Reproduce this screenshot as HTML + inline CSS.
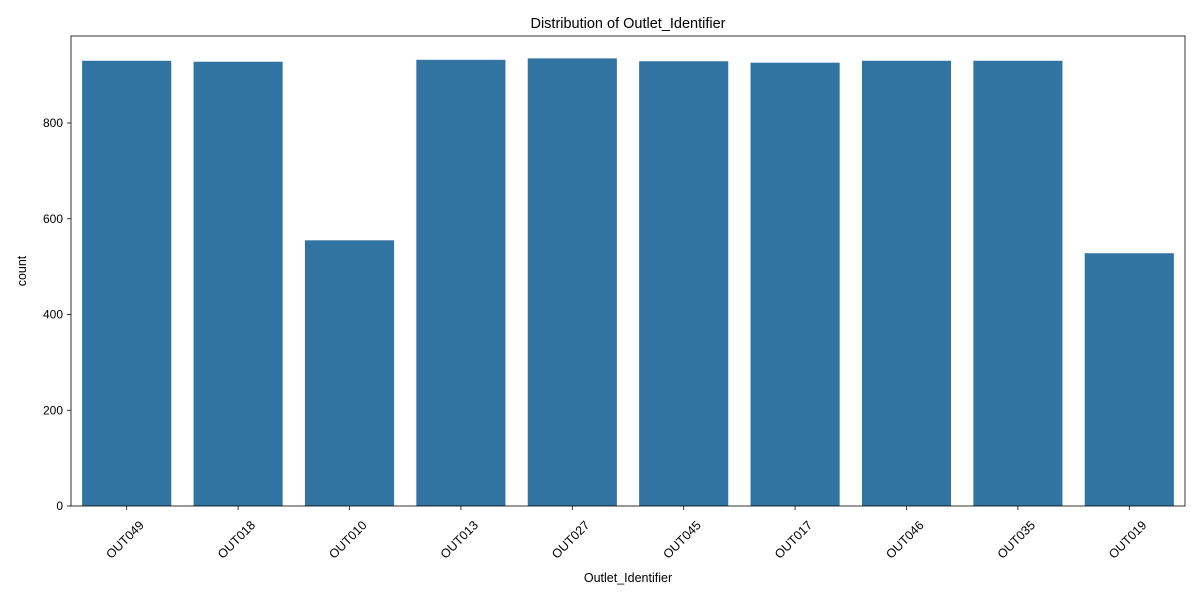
<!DOCTYPE html>
<html><head><meta charset="utf-8"><style>
body{margin:0;background:#fff;}
svg text{font-family:"Liberation Sans","DejaVu Sans",sans-serif;fill:#000;}
</style></head><body>
<svg id="chart" width="1200" height="600"></svg>
<script>
const categories=["OUT049","OUT018","OUT010","OUT013","OUT027","OUT045","OUT017","OUT046","OUT035","OUT019"];
const counts=[930,928,555,932,935,929,926,930,930,528];
const yTicks=[0,200,400,600,800];
const svg=document.getElementById('chart');
const NS='http://www.w3.org/2000/svg';
const L=71,R=1185,T=36,B=506;
const yMax=981.75;
function y(v){return B-(v/yMax)*(B-T);}
const band=(R-L)/categories.length;
function x(i){return L+band*i;}
function el(t,a,p){const e=document.createElementNS(NS,t);for(const k in a)e.setAttribute(k,a[k]);(p||svg).appendChild(e);return e;}
categories.forEach((c,i)=>{
  const r=el('rect',{x:x(i)+band*0.1,y:y(counts[i]),width:band*0.8,height:B-y(counts[i]),fill:'#3274a1'});
  
  
  const cx=x(i)+band/2;
  const tk=el('line',{x1:cx,x2:cx,y1:B,y2:B+4,stroke:'#000','stroke-width':0.8});
  
  
  const t=el('text',{x:0,y:0,'font-size':12.5,'text-anchor':'end',transform:`translate(${cx+18} ${B+20}) rotate(-45)`});
  t.textContent=c;
  
  
});
yTicks.forEach(v=>{
  const tk=el('line',{x1:L-4,x2:L,y1:y(v),y2:y(v),stroke:'#000','stroke-width':0.8});
  
  
  const t=el('text',{x:L-8,y:y(v)+4,'font-size':12,'text-anchor':'end'});
  t.textContent=v;
  
  
});
const frame=el('rect',{x:L,y:T,width:R-L,height:B-T,fill:'none',stroke:'#000','stroke-width':0.8});


const title=el('text',{x:(L+R)/2,y:28,'font-size':14.5,'text-anchor':'middle'});
title.textContent='Distribution of Outlet_Identifier';


const xt=el('text',{x:(L+R)/2,y:582,'font-size':12.5,'text-anchor':'middle'});
xt.textContent='Outlet_Identifier';


const yt=el('text',{x:26,y:(T+B)/2,'font-size':12.5,'text-anchor':'middle',transform:`rotate(-90 26 ${(T+B)/2})`});
yt.textContent='count';


</script>
</body></html>
